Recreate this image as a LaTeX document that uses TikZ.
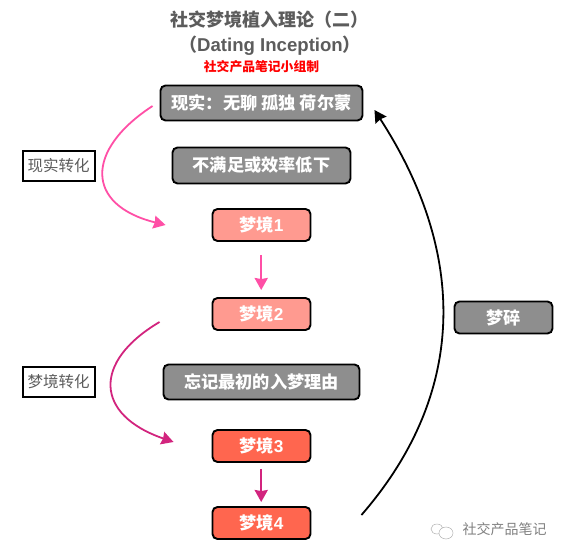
\documentclass[tikz,border=0pt]{standalone}
\usepackage{fontspec}
\setmainfont{Noto Sans CJK SC}
\newfontfamily\latinfont{Liberation Sans}
\usepackage{tikz}
\usetikzlibrary{arrows.meta,positioning,calc}
\definecolor{boxgray}{HTML}{8E8E8E}
\definecolor{titlegray}{HTML}{5C5C5C}
\definecolor{dreamlight}{HTML}{FF9A90}
\definecolor{dreamdeep}{HTML}{FF664F}
\definecolor{linkpink}{HTML}{FF4FA6}
\definecolor{linkrose}{HTML}{D2247E}
\tikzset{
  stagebox/.style={draw=black,line width=1.9pt,rounded corners=5pt,fill=boxgray,text=white,font=\fontsize{17.2}{19}\selectfont\bfseries,inner sep=0pt,anchor=center},
  dreambox/.style={stagebox,minimum width=98pt,minimum height=32pt},
  tagbox/.style={draw=black,line width=2pt,fill=white,text=titlegray,font=\fontsize{15.5}{18}\selectfont,minimum width=72pt,minimum height=30pt,inner sep=0pt},
  softlink/.style={line width=1.8pt,-{Stealth[length=12pt,width=13pt,inset=1pt]}},
  uplink/.style={softlink,line width=2.4pt},
}
\begin{document}
\begin{tikzpicture}[x=1pt,y=-1pt]
  \useasboundingbox (0,0) rectangle (563,554);
  \node[text=titlegray,font=\fontsize{18}{20}\selectfont\bfseries] (title) at (269,20) {社交梦境植入理论（二）};
  \node[text=titlegray,font=\fontsize{18}{20}\selectfont\bfseries] (subtitle) at (270,46) {（{\latinfont\fontsize{18.6}{20}\selectfont Dating Inception}）};
  \node[text=red,font=\fontsize{12.8}{15}\selectfont\bfseries] (team) at (261.5,67) {社交产品笔记小组制};

  \node[stagebox,minimum width=202pt,minimum height=35pt] (reality) at (261.5,103) {现实：无聊 孤独 荷尔蒙};
  \node[stagebox,minimum width=178pt,minimum height=36pt] (unmet) at (261.5,165.5) {不满足或效率低下};
  \node[dreambox,fill=dreamlight] (dream1) at (261.5,225) {梦境{\latinfont 1}};
  \node[dreambox,fill=dreamlight] (dream2) at (261.5,314) {梦境{\latinfont 2}};
  \node[stagebox,minimum width=196pt,minimum height=35pt] (forget) at (261.5,382) {忘记最初的入梦理由};
  \node[dreambox,fill=dreamdeep] (dream3) at (261.5,446) {梦境{\latinfont 3}};
  \node[dreambox,fill=dreamdeep] (dream4) at (261.5,523) {梦境{\latinfont 4}};
  \node[stagebox,minimum width=98pt,minimum height=32pt] (broken) at (503.5,317.5) {梦碎};

  \node[tagbox] (tagreal) at (58.5,165.5) {现实转化};
  \node[tagbox] (tagdream) at (58.5,381.5) {梦境转化};

  % curve ends stop short of the boxes
  \coordinate (realout) at ($(reality.west)+(-7,3)$);
  \coordinate (onein) at ($(dream1.west)+(-46,0)$);
  \coordinate (twoout) at ($(dream2.west)+(-52,8)$);
  \coordinate (threein) at ($(dream3.west)+(-38,-4)$);
  \coordinate (fourout) at ($(dream4.east)+(50,-8)$);
  \coordinate (realin) at ($(reality.east)+(11,7)$);

  \draw[softlink,linkpink] (realout) .. controls (85,150) and (85,205) .. (onein);
  \draw[softlink,linkrose] (twoout) .. controls (92,362) and (95,415) .. (threein);
  \draw[uplink,linkpink] ([xshift=-0.3pt,yshift=-13pt]dream1.south) -- ([xshift=-0.3pt,yshift=7pt]dream2.north);
  \draw[uplink,linkrose] ([xshift=-0.3pt,yshift=-6pt]dream3.south) -- ([xshift=-0.3pt,yshift=4pt]dream4.north);
  \draw[softlink,black] (fourout) .. controls (470,390) and (465,250) .. (realin);

  % watermark
  \node[text=gray,font=\fontsize{14}{16}\selectfont] (mark) at (504.5,529) {社交产品笔记};
  \draw[gray!60,line width=0.5pt] (437,529) ellipse (6pt and 5pt);
  \draw[gray!60,line width=0.5pt,fill=white] (446,533) ellipse (7pt and 6pt);
\end{tikzpicture}
\end{document}
